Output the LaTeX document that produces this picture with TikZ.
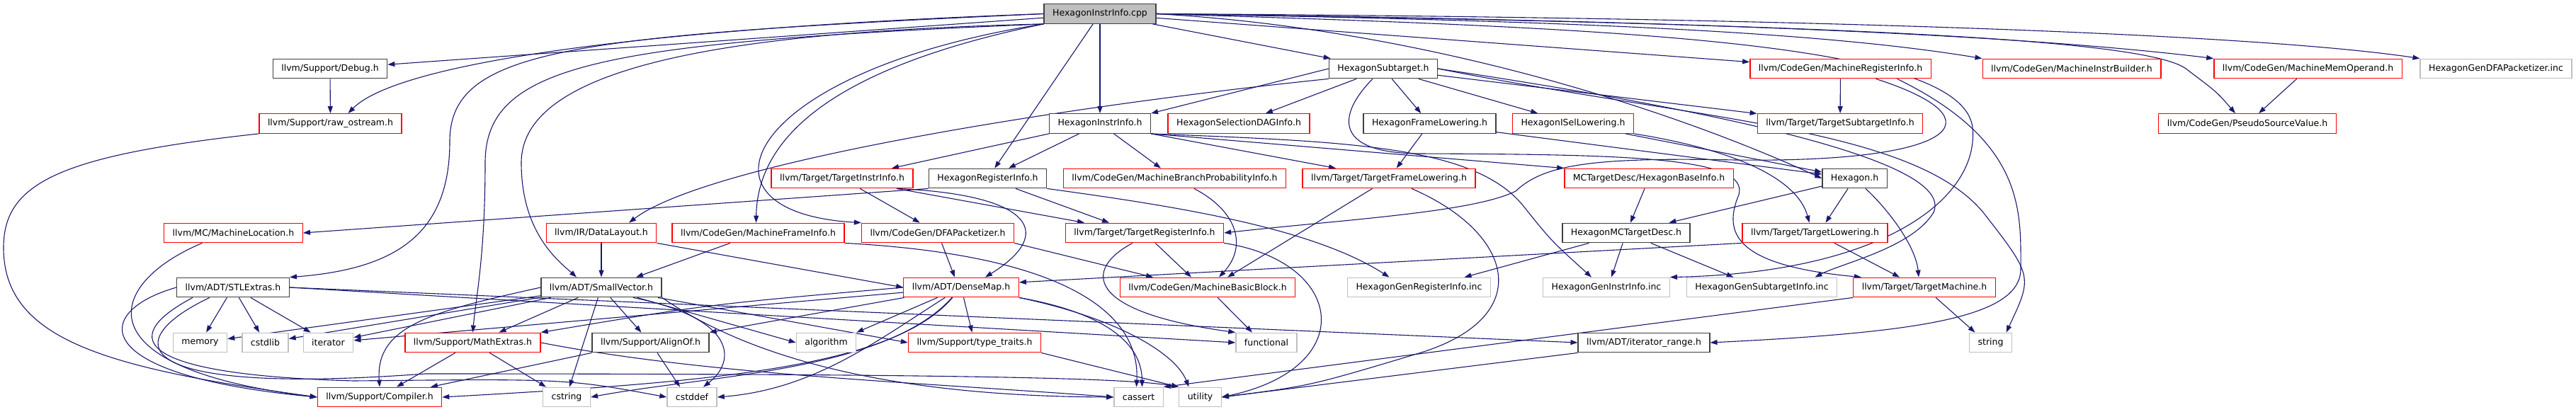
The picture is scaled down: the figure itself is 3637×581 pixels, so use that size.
\documentclass[tikz,border=0pt]{standalone}
\usepackage{fontspec}
\setmainfont{DejaVu Sans}
\usepackage{xcolor}
\usetikzlibrary{arrows.meta}
\definecolor{edgeblue}{RGB}{25,25,112}
\definecolor{boxdark}{RGB}{64,64,64}
\definecolor{boxred}{RGB}{255,0,0}
\definecolor{boxgray}{RGB}{191,191,191}
\pgfdeclarelayer{background}
\pgfsetlayers{background,main}

\begin{document}
\begin{tikzpicture}[x=1pt, y=-1pt,
    incl/.style={rectangle, fill=white, line width=1.3pt, minimum height=27.5pt,
        inner xsep=12pt, inner ysep=0pt, font=\fontsize{12.5}{15}\selectfont},
    inclblack/.style={incl, draw=boxdark},
    inclred/.style={incl, draw=boxred},
    inclgray/.style={incl, draw=boxgray},
    inclroot/.style={incl, draw=boxdark, fill=boxgray},
    dep/.style={draw=edgeblue, line width=1.1pt, -{Triangle[length=10pt,width=7pt]}}]

    \useasboundingbox (0,0) rectangle (3637,581);

    % --- Row 1: the source file ---
    \node[inclroot] (root) at (1553,19.5) {HexagonInstrInfo.cpp};

    % --- Row 2 ---
    \node[inclblack] (debug) at (466,97) {llvm/Support/Debug.h};
    \node[inclblack] (subtarget) at (1953,97) {HexagonSubtarget.h};
    \node[inclred] (mreginfo) at (2598.5,97) {llvm/CodeGen/MachineRegisterInfo.h};
    \node[inclred] (minstrbld) at (2925,97) {llvm/CodeGen/MachineInstrBuilder.h};
    \node[inclred] (mmemop) at (3258.5,97) {llvm/CodeGen/MachineMemOperand.h};
    \node[inclgray] (gendfa) at (3524,97) {HexagonGenDFAPacketizer.inc};

    % --- Row 3 ---
    \node[inclred] (rawos) at (466.5,174.5) {llvm/Support/raw\_ostream.h};
    \node[inclblack] (instrh) at (1553,174.5) {HexagonInstrInfo.h};
    \node[inclred] (seldag) at (1749,174.5) {HexagonSelectionDAGInfo.h};
    \node[inclblack] (framelow) at (2018.5,174.5) {HexagonFrameLowering.h};
    \node[inclred] (isellow) at (2221,174.5) {HexagonISelLowering.h};
    \node[inclred] (tsubinfo) at (2598,174.5) {llvm/Target/TargetSubtargetInfo.h};
    \node[inclred] (pseudo) at (3173,174.5) {llvm/CodeGen/PseudoSourceValue.h};

    % --- Row 4 ---
    \node[inclred] (tinstrinfo) at (1189,252) {llvm/Target/TargetInstrInfo.h};
    \node[inclblack] (reginfo) at (1394.5,252) {HexagonRegisterInfo.h};
    \node[inclred] (mbpi) at (1658.5,252) {llvm/CodeGen/MachineBranchProbabilityInfo.h};
    \node[inclred] (tframelow) at (1961,252) {llvm/Target/TargetFrameLowering.h};
    \node[inclred] (baseinfo) at (2328,252) {MCTargetDesc/HexagonBaseInfo.h};
    \node[inclblack] (hexh) at (2618.5,252) {Hexagon.h};

    % --- Row 5 ---
    \node[inclred] (mloc) at (329.5,329) {llvm/MC/MachineLocation.h};
    \node[inclred] (datalayout) at (849,329) {llvm/IR/DataLayout.h};
    \node[inclred] (mframeinfo) at (1070.5,329) {llvm/CodeGen/MachineFrameInfo.h};
    \node[inclred] (dfapack) at (1324,329) {llvm/CodeGen/DFAPacketizer.h};
    \node[inclred] (treginfo) at (1616,329) {llvm/Target/TargetRegisterInfo.h};
    \node[inclblack] (mctd) at (2296,329) {HexagonMCTargetDesc.h};
    \node[inclred] (tlowering) at (2562.5,329) {llvm/Target/TargetLowering.h};

    % --- Row 6 ---
    \node[inclblack] (stlextras) at (329,406) {llvm/ADT/STLExtras.h};
    \node[inclblack] (smallvec) at (849,406) {llvm/ADT/SmallVector.h};
    \node[inclred] (densemap) at (1357,406) {llvm/ADT/DenseMap.h};
    \node[inclred] (mbb) at (1705,406) {llvm/CodeGen/MachineBasicBlock.h};
    \node[inclgray] (genreginc) at (2003.5,406) {HexagonGenRegisterInfo.inc};
    \node[inclgray] (geninstrinc) at (2268,406) {HexagonGenInstrInfo.inc};
    \node[inclgray] (gensubinc) at (2487.5,406) {HexagonGenSubtargetInfo.inc};
    \node[inclred] (tmachine) at (2717,406) {llvm/Target/TargetMachine.h};

    % --- Row 7 ---
    \node[inclgray] (memory) at (282.5,484) {memory};
    \node[inclgray] (cstdlib) at (374.5,484) {cstdlib};
    \node[inclgray] (iterator) at (463.5,484) {iterator};
    \node[inclred] (mathext) at (667.5,484) {llvm/Support/MathExtras.h};
    \node[inclblack] (alignof) at (918.5,484) {llvm/Support/AlignOf.h};
    \node[inclgray] (algorithm) at (1166.5,484) {algorithm};
    \node[inclred] (typetraits) at (1376,484) {llvm/Support/type\_traits.h};
    \node[inclgray] (functional) at (1788,484) {functional};
    \node[inclblack] (itrange) at (2321,484) {llvm/ADT/iterator\_range.h};
    \node[inclgray] (string) at (2810.5,484) {string};

    % --- Row 8 ---
    \node[inclred] (compiler) at (536,561) {llvm/Support/Compiler.h};
    \node[inclgray] (cstring) at (800,561) {cstring};
    \node[inclgray] (cstddef) at (977,561) {cstddef};
    \node[inclgray] (cassert) at (1607.5,561) {cassert};
    \node[inclgray] (utility) at (1694.5,561) {utility};

    \begin{pgfonlayer}{background}
    % --- Includes of the source file ---
    \draw[dep] (root) -- (instrh);
    \draw[dep] (root) -- (reginfo);
    \draw[dep] (root) -- (subtarget);
    \draw[dep] (root) -- (debug);
    \draw[dep] (root) -- (mreginfo);
    \draw[dep] (root.west) .. controls (900,40) and (560,90) .. ([xshift=25pt]rawos.north);
    \draw[dep] (root.west) .. controls (800,50) and (635,70) .. (635,200) .. controls (635,330) and (560,380) .. (stlextras.north east);
    \draw[dep] (root.south west) .. controls (850,60) and (685,90) .. (685,230) .. controls (685,360) and (672,420) .. (mathext.north);
    \draw[dep] (root.south west) .. controls (1000,45) and (736,100) .. (736,230) .. controls (736,330) and (790,370) .. ([xshift=-35pt]smallvec.north);
    \draw[dep] (root.south west) .. controls (1250,80) and (1070,160) .. ([xshift=-3pt]mframeinfo.north);
    \draw[dep] (root.south west) .. controls (1050,100) and (960,300) .. (dfapack.north west);
    \draw[dep] (root.east) .. controls (2000,40) and (2350,150) .. (hexh.west);
    \draw[dep] (root.east) .. controls (2300,30) and (2600,50) .. (minstrbld.north west);
    \draw[dep] (root.east) .. controls (2500,30) and (2900,55) .. (mmemop.north west);
    \draw[dep] (root.east) .. controls (2600,25) and (3200,50) .. (gendfa.north west);
    \draw[dep] (root.east) .. controls (2700,35) and (3050,60) .. (3090,100) .. controls (3130,130) .. ([xshift=-17pt]pseudo.north);
    \draw[dep] (root.east) .. controls (2300,40) and (2770,60) .. (2785,180) .. controls (2795,280) and (2660,385) .. (geninstrinc.north east);

    % --- HexagonSubtarget.h ---
    \draw[dep] (subtarget.west) -- (instrh.north east);
    \draw[dep] (subtarget) -- (seldag);
    \draw[dep] (subtarget.south west) .. controls (1500,150) and (1000,230) .. ([xshift=39pt]datalayout.north);
    \draw[dep] (subtarget) -- (framelow);
    \draw[dep] (subtarget) -- (isellow);
    \draw[dep] (subtarget) -- (tsubinfo);
    \draw[dep] ([xshift=-15pt]subtarget.south) .. controls (1890,160) and (1880,215) .. (2000,217) .. controls (2300,218) and (2470,222) .. (2455,275) .. controls (2432,330) and (2450,375) .. ([xshift=-89pt]tmachine.north);
    \draw[dep] (subtarget.east) .. controls (2400,170) and (2700,180) .. (2800,300) .. controls (2870,390) .. ([xshift=22pt]string.north);
    \draw[dep] (subtarget.east) .. controls (2450,160) and (2760,230) .. (2730,300) .. controls (2700,350) and (2600,372) .. ([xshift=75pt]gensubinc.north);

    % --- HexagonInstrInfo.h ---
    \draw[dep] (instrh) -- (reginfo);
    \draw[dep] (instrh.south west) -- ([xshift=70pt]tinstrinfo.north);
    \draw[dep] (instrh) -- (mbpi);
    \draw[dep] (instrh.south east) -- ([xshift=-75pt]tframelow.north);
    \draw[dep] (instrh.south east) -- (baseinfo.north west);
    \draw[dep] (instrh.south east) .. controls (1900,200) and (2080,205) .. (2150,290) .. controls (2190,340) .. ([xshift=-21pt]geninstrinc.north);

    % --- HexagonRegisterInfo.h ---
    \draw[dep] (reginfo.south west) -- (mloc.east);
    \draw[dep] (reginfo) -- ([xshift=-50pt]treginfo.north);
    \draw[dep] (reginfo.south east) .. controls (1650,290) and (1850,320) .. ([xshift=-42pt]genreginc.north);

    % --- Target headers ---
    \draw[dep] (tinstrinfo) -- (dfapack);
    \draw[dep] ([xshift=77pt]tinstrinfo.south) -- ([xshift=-85pt]treginfo.north);
    \draw[dep] ([xshift=77pt]tinstrinfo.south) .. controls (1460,275) and (1490,330) .. ([xshift=34pt]densemap.north);
    \draw[dep] (mbpi) .. controls (1750,300) and (1760,350) .. ([xshift=16pt]mbb.north);
    \draw[dep] (tframelow) -- ([xshift=28pt]mbb.north);
    \draw[dep] ([xshift=32pt]tframelow.south) .. controls (2140,330) and (2170,450) .. (2000,500) .. controls (1850,545) .. (utility.east);
    \draw[dep] (framelow) -- (tframelow);
    \draw[dep] (framelow) -- (hexh);
    \draw[dep] (isellow) -- (hexh);
    \draw[dep] (isellow.south east) .. controls (2470,215) and (2540,260) .. ([xshift=-8pt]tlowering.north);
    \draw[dep] (hexh) -- ([xshift=15pt]tlowering.north);
    \draw[dep] (hexh) -- (mctd);
    \draw[dep] (hexh) .. controls (2670,300) and (2705,350) .. ([xshift=-8pt]tmachine.north);
    \draw[dep] (baseinfo) -- (mctd);
    \draw[dep] (mctd) -- ([xshift=64pt]genreginc.north);
    \draw[dep] (mctd) -- ([xshift=7pt]geninstrinc.north);
    \draw[dep] (mctd) -- ([xshift=-40pt]gensubinc.north);
    \draw[dep] (tlowering.south west) -- (densemap.5);
    \draw[dep] (tlowering) -- ([xshift=-35pt]tmachine.north);
    \draw[dep] (tmachine) -- ([xshift=-22pt]string.north);
    \draw[dep] (tmachine.south west) -- (cassert.north east);

    % --- MachineRegisterInfo.h ---
    \draw[dep] (mreginfo) -- (tsubinfo);
    \draw[dep] ([xshift=50pt]mreginfo.south) .. controls (2830,170) and (2760,230) .. (2450,226) .. controls (2250,222) and (2180,232) .. (2140,270) .. controls (2080,300) and (1900,310) .. (treginfo.east);
    \draw[dep] ([xshift=80pt]mreginfo.south) .. controls (2860,200) and (2853,300) .. (2853,380) .. controls (2853,450) and (2700,470) .. (itrange.east);
    \draw[dep] (mmemop) -- ([xshift=16pt]pseudo.north);

    % --- CodeGen headers ---
    \draw[dep] (dfapack) -- ([xshift=-9pt]densemap.north);
    \draw[dep] (dfapack.south east) -- ([xshift=-77pt]mbb.north);
    \draw[dep] (treginfo) -- ([xshift=-23pt]mbb.north);
    \draw[dep] ([xshift=-17pt]treginfo.south) .. controls (1530,380) and (1530,440) .. (functional.north west);
    \draw[dep] (treginfo.south east) .. controls (1900,370) and (1920,520) .. (utility.east);
    \draw[dep] (mbb) -- ([xshift=-20pt]functional.north);
    \draw[dep] (datalayout) -- (smallvec);
    \draw[dep] (datalayout.south east) -- (densemap.west);
    \draw[dep] (mframeinfo) -- ([xshift=49pt]smallvec.north);
    \draw[dep] (mframeinfo.south east) .. controls (1500,360) and (1610,440) .. ([xshift=-3pt]cassert.north);

    % --- DenseMap.h ---
    \draw[dep] (densemap) -- (iterator);
    \draw[dep] (densemap.west) .. controls (1000,430) .. (mathext.north east);
    \draw[dep] (densemap) -- (alignof.north east);
    \draw[dep] (densemap) -- (algorithm.north east);
    \draw[dep] (densemap) -- (typetraits);
    \draw[dep] (densemap) .. controls (1260,520) and (1000,540) .. (compiler.east);
    \draw[dep] (densemap) .. controls (1240,480) and (1150,550) .. (cstddef.east);
    \draw[dep] (densemap) .. controls (1250,525) and (1000,530) .. (cstring.east);
    \draw[dep] (densemap.south east) .. controls (1550,440) and (1612,480) .. ([xshift=5pt]cassert.north);
    \draw[dep] (densemap.south east) .. controls (1580,450) and (1660,500) .. ([xshift=-16pt]utility.north);

    % --- SmallVector.h ---
    \draw[dep] (smallvec) -- (memory);
    \draw[dep] (smallvec) -- (cstdlib);
    \draw[dep] (smallvec) -- (iterator);
    \draw[dep] (smallvec.west) .. controls (610,440) and (530,460) .. (compiler.north);
    \draw[dep] (smallvec) -- ([xshift=37pt]mathext.north);
    \draw[dep] (smallvec) -- ([xshift=-13pt]alignof.north);
    \draw[dep] (smallvec) -- (algorithm.west);
    \draw[dep] (smallvec) -- (typetraits.west);
    \draw[dep] ([xshift=45pt]smallvec.south) .. controls (1040,450) and (1040,510) .. ([xshift=16pt]cstddef.north);
    \draw[dep] (smallvec) -- ([xshift=4pt]cstring.north);
    \draw[dep] (smallvec.south east) .. controls (1080,520) and (1300,560) .. (cassert.west);

    % --- STLExtras.h ---
    \draw[dep] (stlextras) -- (memory);
    \draw[dep] (stlextras) -- (cstdlib);
    \draw[dep] (stlextras) -- (iterator);
    \draw[dep] (stlextras.west) .. controls (130,440) and (120,530) .. (compiler.west);
    \draw[dep] ([xshift=-57pt]stlextras.south) .. controls (160,480) and (200,530) .. (500,538) .. controls (800,535) .. (cstddef.west);
    \draw[dep] ([xshift=-33pt]stlextras.south) .. controls (170,480) and (170,560) .. (600,528) .. controls (1400,528) and (1600,535) .. (utility.north west);
    \draw[dep] (stlextras.east) -- (functional.west);
    \draw[dep] (stlextras.east) -- (itrange.west);

    % --- Support headers ---
    \draw[dep] (debug) -- (rawos);
    \draw[dep] (rawos.south west) .. controls (80,220) and (5,260) .. (5,350) .. controls (5,480) and (150,520) .. (compiler.west);
    \draw[dep] ([xshift=-44pt]mloc.south) .. controls (150,400) and (110,520) .. (compiler.west);
    \draw[dep] (mathext) -- ([xshift=24pt]compiler.north);
    \draw[dep] (mathext) -- ([xshift=-29pt]cstring.north);
    \draw[dep] (mathext.east) .. controls (1000,530) and (1300,540) .. (cassert.west);
    \draw[dep] (alignof.south west) -- ([xshift=72pt]compiler.north);
    \draw[dep] (alignof) -- ([xshift=-17pt]cstddef.north);
    \draw[dep] (typetraits.south east) -- (utility.north west);
    \draw[dep] (itrange.south west) -- (utility.east);
    \end{pgfonlayer}

\end{tikzpicture}
\end{document}
